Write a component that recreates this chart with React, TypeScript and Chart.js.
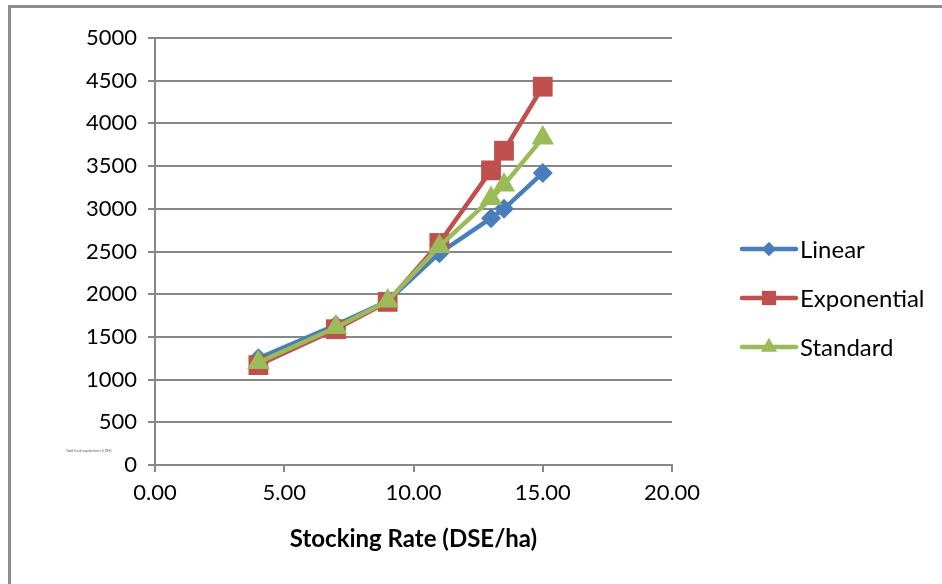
import React, { useEffect, useRef } from "react";
import { Chart, registerables } from "chart.js";
import { drawPoint } from "chart.js/helpers";

Chart.register(...registerables);

// Stocking rate (DSE/ha) and the three requirement estimates
const stockingRate = [4, 7, 9, 11, 13, 13.5, 15];
const linear = [1250, 1640, 1920, 2480, 2890, 3000, 3420];
const exponential = [1170, 1590, 1910, 2600, 3450, 3680, 4430];
const standard = [1200, 1610, 1920, 2560, 3120, 3280, 3830];
const seriesNames = ["Linear", "Exponential", "Standard"];
const yTitle = "Total feed requirement (t DM)";
const xTitle = "Stocking Rate (DSE/ha)";

const FONT = "Lato, 'Open Sans', sans-serif";
const GRID = "#878787";
const COLORS = ["#4a7ebb", "#c0504d", "#9bbb59"];
const STYLES = ["rectRot", "rect", "triangle"];
const RADII = [10, 14, 13];

const toPoints = (ys: number[]) => stockingRate.map((x, i) => ({ x, y: ys[i] }));

// Frame, small axis caption and the side legend
const decorations = {
  id: "decorations",
  afterDraw(chart: any) {
    const ctx = chart.ctx;
    ctx.save();
    ctx.strokeStyle = "#8c8c8c";
    ctx.lineWidth = 3;
    ctx.beginPath();
    ctx.moveTo(9.5, 600);
    ctx.lineTo(9.5, 6.5);
    ctx.lineTo(960, 6.5);
    ctx.stroke();

    ctx.fillStyle = "#555";
    ctx.font = "3.5px " + FONT;
    ctx.textAlign = "left";
    ctx.textBaseline = "middle";
    ctx.fillText(yTitle, 66, 451);

    chart.data.datasets.forEach((ds: any, i: number) => {
      const y = 249 + i * 49;
      ctx.strokeStyle = ds.borderColor;
      ctx.lineWidth = 4.5;
      ctx.lineCap = "round";
      ctx.beginPath();
      ctx.moveTo(742, y);
      ctx.lineTo(796, y);
      ctx.stroke();
      ctx.fillStyle = ds.borderColor;
      drawPoint(ctx, { pointStyle: ds.pointStyle, rotation: 0, borderWidth: 0, radius: ds.pointRadius * 0.72 }, 769, y);
      ctx.fillStyle = "#000";
      ctx.font = "24px " + FONT;
      ctx.textAlign = "left";
      ctx.textBaseline = "middle";
      ctx.fillText(ds.label, 800, y + 1);
    });
    ctx.restore();
  },
};

export default function App() {
  const ref = useRef<HTMLCanvasElement>(null);

  useEffect(() => {
    if (!ref.current) return;
    const all = [linear, exponential, standard];
    const chart = new Chart(ref.current, {
      type: "line",
      data: {
        datasets: all.map((vals, i) => ({
          label: seriesNames[i],
          data: toPoints(vals),
          borderColor: COLORS[i],
          backgroundColor: COLORS[i],
          pointBackgroundColor: COLORS[i],
          pointBorderWidth: 0,
          borderWidth: 4.5,
          pointStyle: STYLES[i] as any,
          pointRadius: RADII[i],
          tension: 0,
          order: 3 - i,
        })),
      },
      options: {
        responsive: false,
        animation: false,
        layout: { padding: { left: 0, top: 38, right: 270, bottom: 30 } },
        plugins: {
          legend: { display: false },
          tooltip: { enabled: false },
        },
        scales: {
          x: {
            type: "linear",
            min: 0,
            max: 20,
            ticks: {
              stepSize: 5,
              color: "#000",
              font: { family: FONT, size: 22 },
              padding: 8,
              callback: (v: any) => Number(v).toFixed(2),
              maxRotation: 0,
            },
            grid: { drawOnChartArea: false, drawTicks: true, tickLength: 7, color: GRID, lineWidth: 2 },
            border: { display: true, color: GRID, width: 2 },
            title: {
              display: true,
              text: xTitle,
              color: "#000",
              font: { family: FONT, size: 24, weight: "bold" },
              padding: { top: 12, bottom: 0 },
            },
            afterFit: (s: any) => {
              s.height = 584 - 465 - 30;
            },
          },
          y: {
            min: 0,
            max: 5000,
            ticks: {
              stepSize: 500,
              color: "#000",
              font: { family: FONT, size: 22 },
              padding: 11,
              callback: (v: any) => String(v),
            },
            grid: { drawTicks: true, tickLength: 7, color: GRID, lineWidth: 2 },
            border: { display: true, color: GRID, width: 2 },
            afterFit: (s: any) => {
              s.width = 155;
            },
          },
        },
      },
      plugins: [decorations],
    });
    return () => chart.destroy();
  }, []);

  return (
    <div style={{ position: "absolute", left: 0, top: 0, width: 942, height: 584, background: "#fff" }}>
      <canvas ref={ref} width={942} height={584} style={{ display: "block" }} />
    </div>
  );
}
